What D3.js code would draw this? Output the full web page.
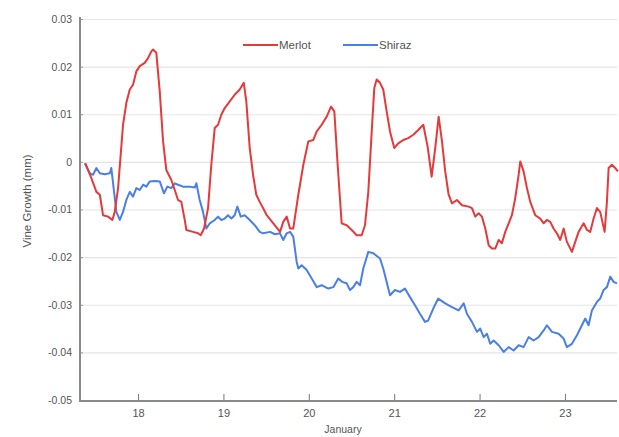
<!DOCTYPE html>
<html>
<head>
<meta charset="utf-8">
<script src="https://cdn.jsdelivr.net/npm/d3@7"></script>
<style>
  html, body { margin: 0; padding: 0; background: #fff; }
  svg { display: block; }
  text { font-family: "Liberation Sans", "DejaVu Sans", sans-serif; fill: #555; }
</style>
</head>
<body>
<svg id="chart" width="619" height="437"></svg>
<script>
// Vine growth in January, day-of-month (fractional) and growth in mm
const seriesNames = ["Merlot", "Shiraz"];
const seriesColors = ["#e6393a", "#4a7fe3"];

const merlotDays = [17.383,17.453,17.512,17.552,17.590,17.649,17.699,17.727,17.766,17.824,17.863,17.903,17.941,17.980,18.020,18.078,18.117,18.156,18.176,18.214,18.254,18.293,18.331,18.390,18.430,18.468,18.507,18.547,18.566,18.644,18.703,18.734,18.773,18.820,18.858,18.898,18.937,18.975,19.015,19.074,19.132,19.191,19.238,19.268,19.308,19.347,19.385,19.425,19.464,19.507,19.584,19.663,19.701,19.741,19.780,19.818,19.877,19.936,19.994,20.053,20.093,20.151,20.210,20.260,20.299,20.338,20.385,20.444,20.502,20.561,20.619,20.658,20.697,20.737,20.767,20.795,20.834,20.872,20.912,20.951,21.001,21.048,21.107,21.165,21.224,21.282,21.341,21.392,21.439,21.481,21.521,21.560,21.598,21.638,21.677,21.735,21.794,21.872,21.911,21.950,21.989,22.028,22.067,22.107,22.145,22.184,22.224,22.262,22.301,22.341,22.379,22.418,22.458,22.477,22.516,22.555,22.594,22.652,22.711,22.751,22.789,22.828,22.867,22.906,22.945,22.985,23.023,23.082,23.121,23.160,23.219,23.258,23.296,23.336,23.375,23.413,23.465,23.492,23.512,23.550,23.589,23.621];
const merlotValues = [-0.0003,-0.0034,-0.0063,-0.0069,-0.0112,-0.0115,-0.0122,-0.0105,-0.0055,0.0078,0.0124,0.0152,0.0162,0.0190,0.0201,0.0208,0.0218,0.0232,0.0236,0.0229,0.0148,0.0043,-0.0017,-0.0038,-0.0059,-0.0080,-0.0084,-0.0122,-0.0143,-0.0147,-0.0150,-0.0154,-0.0140,-0.0097,-0.0006,0.0071,0.0078,0.0099,0.0113,0.0127,0.0141,0.0152,0.0166,0.0127,0.0029,-0.0027,-0.0069,-0.0084,-0.0097,-0.0112,-0.0129,-0.0147,-0.0126,-0.0115,-0.0140,-0.0140,-0.0069,-0.0006,0.0043,0.0046,0.0064,0.0078,0.0095,0.0116,0.0106,-0.0006,-0.0129,-0.0133,-0.0143,-0.0154,-0.0154,-0.0133,-0.0063,0.0064,0.0155,0.0173,0.0166,0.0152,0.0106,0.0064,0.0029,0.0039,0.0046,0.0050,0.0057,0.0067,0.0078,0.0032,-0.0031,0.0029,0.0095,0.0043,-0.0020,-0.0069,-0.0087,-0.0080,-0.0091,-0.0094,-0.0097,-0.0115,-0.0108,-0.0115,-0.0140,-0.0175,-0.0182,-0.0182,-0.0164,-0.0171,-0.0147,-0.0129,-0.0112,-0.0076,-0.0027,0.0001,-0.0020,-0.0055,-0.0084,-0.0112,-0.0119,-0.0129,-0.0122,-0.0126,-0.0140,-0.0150,-0.0164,-0.0140,-0.0168,-0.0189,-0.0168,-0.0147,-0.0129,-0.0143,-0.0147,-0.0119,-0.0097,-0.0105,-0.0147,-0.0084,-0.0013,-0.0006,-0.0013,-0.0020];

const shirazDays = [17.376,17.434,17.473,17.512,17.552,17.610,17.669,17.687,17.719,17.746,17.786,17.824,17.863,17.903,17.941,17.980,18.020,18.059,18.097,18.137,18.196,18.254,18.304,18.343,18.390,18.430,18.468,18.527,18.605,18.664,18.683,18.722,18.761,18.800,18.840,18.898,18.937,18.975,19.015,19.054,19.093,19.132,19.163,19.203,19.249,19.308,19.367,19.425,19.464,19.546,19.604,19.663,19.701,19.741,19.780,19.818,19.858,19.877,19.917,19.975,20.034,20.093,20.151,20.228,20.287,20.345,20.392,20.444,20.482,20.521,20.561,20.600,20.638,20.697,20.755,20.834,20.872,20.912,20.951,21.009,21.068,21.126,21.185,21.244,21.302,21.361,21.399,21.458,21.516,21.598,21.677,21.755,21.814,21.852,21.911,21.970,22.008,22.048,22.087,22.125,22.165,22.224,22.282,22.341,22.399,22.458,22.516,22.575,22.633,22.692,22.751,22.789,22.848,22.926,22.985,23.023,23.082,23.141,23.180,23.238,23.277,23.316,23.375,23.413,23.453,23.492,23.531,23.570,23.609];
const shirazValues = [-0.0003,-0.0024,-0.0027,-0.0013,-0.0024,-0.0026,-0.0024,-0.0013,-0.0063,-0.0105,-0.0122,-0.0105,-0.0080,-0.0063,-0.0073,-0.0055,-0.0059,-0.0048,-0.0052,-0.0041,-0.0040,-0.0041,-0.0066,-0.0052,-0.0055,-0.0045,-0.0048,-0.0052,-0.0052,-0.0054,-0.0045,-0.0080,-0.0105,-0.0140,-0.0129,-0.0122,-0.0115,-0.0122,-0.0119,-0.0112,-0.0119,-0.0112,-0.0094,-0.0115,-0.0112,-0.0122,-0.0133,-0.0147,-0.0150,-0.0147,-0.0152,-0.0150,-0.0164,-0.0150,-0.0147,-0.0157,-0.0210,-0.0224,-0.0217,-0.0227,-0.0245,-0.0263,-0.0259,-0.0266,-0.0263,-0.0245,-0.0252,-0.0255,-0.0269,-0.0263,-0.0252,-0.0259,-0.0224,-0.0189,-0.0192,-0.0203,-0.0224,-0.0252,-0.0280,-0.0269,-0.0273,-0.0266,-0.0284,-0.0301,-0.0319,-0.0336,-0.0333,-0.0308,-0.0287,-0.0297,-0.0305,-0.0312,-0.0297,-0.0319,-0.0336,-0.0357,-0.0350,-0.0368,-0.0361,-0.0382,-0.0375,-0.0385,-0.0399,-0.0389,-0.0396,-0.0385,-0.0389,-0.0368,-0.0375,-0.0368,-0.0354,-0.0343,-0.0357,-0.0361,-0.0371,-0.0389,-0.0382,-0.0364,-0.0350,-0.0329,-0.0343,-0.0312,-0.0294,-0.0287,-0.0269,-0.0263,-0.0241,-0.0252,-0.0255];

const xTicks = [18, 19, 20, 21, 22, 23];
const yTicks = [0.03, 0.02, 0.01, 0, -0.01, -0.02, -0.03, -0.04, -0.05];
const yTickLabels = ["0.03", "0.02", "0.01", "0", "-0.01", "-0.02", "-0.03", "-0.04", "-0.05"];
const xTitle = "January";
const yTitle = "Vine Growth (mm)";

const svg = d3.select("#chart");
const plot = { left: 80, right: 617, top: 19, bottom: 400 };

const x = d3.scaleLinear().domain([17.32, 23.61]).range([plot.left, plot.right]);
const y = d3.scaleLinear().domain([-0.05, 0.03]).range([plot.bottom, plot.top]);

// horizontal gridlines
svg.append("g")
  .selectAll("line")
  .data(yTicks)
  .join("line")
  .attr("x1", plot.left).attr("x2", plot.right)
  .attr("y1", d => y(d) + 0.5).attr("y2", d => y(d) + 0.5)
  .attr("stroke", "#e4e4e4").attr("stroke-width", 1.2);

// y axis
const yAxis = svg.append("g")
  .attr("transform", `translate(${plot.left},0)`)
  .call(d3.axisRight(y).tickValues(yTicks).tickSize(3)
    .tickFormat((d, i) => yTickLabels[i]));
yAxis.select(".domain").remove();
yAxis.selectAll(".tick line").attr("stroke", "#999");
yAxis.selectAll(".tick text")
  .attr("x", -8).attr("text-anchor", "end")
  .attr("font-size", 10.5).attr("fill", "#666")
  .attr("font-family", "Liberation Sans, sans-serif");
svg.append("line")
  .attr("x1", plot.left).attr("x2", plot.left)
  .attr("y1", plot.top - 2).attr("y2", plot.bottom + 2)
  .attr("stroke", "#8a8a8a").attr("stroke-width", 2);

// x axis, ticks pointing into the plot
const xAxis = svg.append("g")
  .attr("transform", `translate(0,${plot.bottom + 1})`)
  .call(d3.axisBottom(x).tickValues(xTicks).tickSize(0).tickPadding(8)
    .tickFormat(d3.format("d")));
xAxis.select(".domain").remove();
xAxis.selectAll(".tick text")
  .attr("font-size", 11).attr("fill", "#666")
  .attr("font-family", "Liberation Serif, serif");
xAxis.selectAll(".tick").append("line")
  .attr("y1", 0).attr("y2", -7)
  .attr("stroke", "#777").attr("stroke-width", 1);
svg.append("line")
  .attr("x1", plot.left - 1).attr("x2", plot.right)
  .attr("y1", plot.bottom + 1).attr("y2", plot.bottom + 1)
  .attr("stroke", "#8a8a8a").attr("stroke-width", 2);

// axis titles
svg.append("text")
  .attr("x", 343).attr("y", 433)
  .attr("text-anchor", "middle").attr("font-size", 10.5).attr("fill", "#666")
  .text(xTitle);
svg.append("text")
  .attr("transform", `translate(31,201) rotate(-90)`)
  .attr("text-anchor", "middle").attr("font-size", 11.5).attr("fill", "#666")
  .text(yTitle);

// series lines
const line = d3.line().x(d => x(d[0])).y(d => y(d[1]));
const series = [
  d3.zip(merlotDays, merlotValues),
  d3.zip(shirazDays, shirazValues)
];
// Shiraz drawn first so Merlot sits on top
[1, 0].forEach(i => {
  svg.append("path")
    .datum(series[i])
    .attr("fill", "none")
    .attr("stroke", seriesColors[i])
    .attr("stroke-width", 2)
    .attr("stroke-linejoin", "round")
    .attr("d", line);
});

// legend
const legendX = [243, 343];
const legend = svg.append("g");
seriesNames.forEach((name, i) => {
  legend.append("line")
    .attr("x1", legendX[i]).attr("x2", legendX[i] + 35)
    .attr("y1", 45).attr("y2", 45)
    .attr("stroke", seriesColors[i]).attr("stroke-width", 2);
  legend.append("text")
    .attr("x", legendX[i] + 36).attr("y", 49)
    .attr("font-size", 11.5).attr("fill", "#666")
    .text(name);
});
</script>
</body>
</html>
